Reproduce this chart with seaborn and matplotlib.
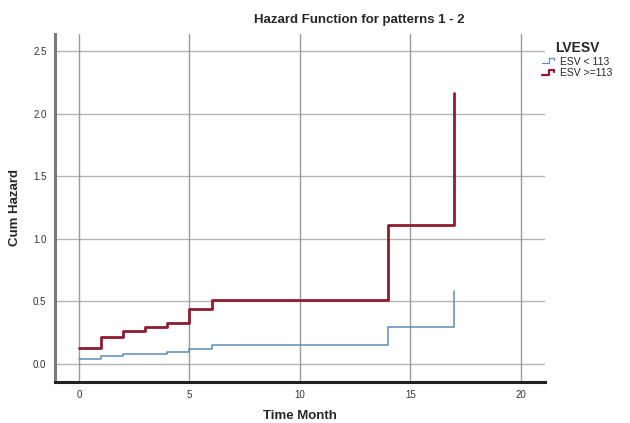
import pandas as pd
import numpy as np
import matplotlib
matplotlib.use('Agg')
import matplotlib.pyplot as plt
import seaborn as sns
from matplotlib.lines import Line2D
from matplotlib.legend_handler import HandlerBase

# --- Data ---
groups = ['ESV < 113', 'ESV >=113']
low_time = [0, 1, 2, 4, 5, 6, 14, 17]
low_hazard = [0.037, 0.061, 0.079, 0.095, 0.117, 0.148, 0.294, 0.582]
high_time = [0, 1, 2, 3, 4, 5, 6, 14, 17]
high_hazard = [0.125, 0.217, 0.267, 0.296, 0.328, 0.44, 0.513, 1.11, 2.17]
x_ticks = [0, 5, 10, 15, 20]
y_ticks = [0.0, 0.5, 1.0, 1.5, 2.0, 2.5]

colors = {'ESV < 113': '#5b8cb8', 'ESV >=113': '#8e1b30'}
widths = {'ESV < 113': 1.1, 'ESV >=113': 2.0}

hazard_df = pd.concat([
    pd.DataFrame({'Time Month': low_time, 'Cum Hazard': low_hazard, 'LVESV': groups[0]}),
    pd.DataFrame({'Time Month': high_time, 'Cum Hazard': high_hazard, 'LVESV': groups[1]}),
])

sns.set_style('white')
plt.rcParams['font.family'] = ['Liberation Sans', 'DejaVu Sans']

fig = plt.figure(figsize=(6.3, 4.23), dpi=100)
ax = fig.add_axes([0.087, 0.097, 0.778, 0.823])

# Grid drawn first so the steps sit on top
for g in y_ticks:
    ax.axhline(g, color='#b4b4b4', lw=1.0, zorder=0)
for g in x_ticks:
    ax.axvline(g, color='#9a9a9a', lw=1.0, zorder=0)

for grp in groups:
    sub = hazard_df[hazard_df['LVESV'] == grp]
    sns.lineplot(data=sub, x='Time Month', y='Cum Hazard', color=colors[grp],
                 lw=widths[grp], drawstyle='steps-post', estimator=None,
                 ax=ax, legend=False, zorder=3)

ax.set_xlim(-1.1, 21.1)
ax.set_ylim(-0.144, 2.64)
ax.set_xticks(x_ticks)
ax.set_yticks(y_ticks)
ax.set_yticklabels([f'{v:.1f}' for v in y_ticks])
ax.tick_params(labelsize=7, colors='#333333', length=0, pad=6)

for side in ['top', 'right']:
    ax.spines[side].set_visible(False)
ax.spines['bottom'].set_color('#222222')
ax.spines['bottom'].set_linewidth(2.2)
ax.spines['left'].set_color('#7a7a7a')
ax.spines['left'].set_linewidth(2.2)

ax.set_xlabel('Time Month', fontsize=9.5, fontweight='bold')
ax.set_ylabel('Cum Hazard', fontsize=9.5, fontweight='bold')
ax.xaxis.set_label_coords(0.5, -0.08)
ax.yaxis.set_label_coords(-0.068, 0.5)

fig.text(0.571, 0.952, 'Hazard Function for patterns 1 - 2', ha='center', va='center',
         fontsize=9.5, fontweight='bold')


# Step-shaped legend keys like SPSS
class StepHandler(HandlerBase):
    def create_artists(self, legend, orig_handle, xdescent, ydescent, width, height, fontsize, trans):
        xs = [0, width * 0.45, width * 0.45, width * 0.75, width * 0.75]
        ys = [height * 0.2, height * 0.2, height * 0.9, height * 0.9, height * 0.6]
        line = Line2D(np.array(xs) - xdescent, np.array(ys) - ydescent,
                      color=orig_handle.get_color(), lw=orig_handle.get_linewidth(),
                      transform=trans)
        return [line]


handles = [Line2D([], [], color=colors[g], lw=widths[g] * 0.8) for g in groups]
leg = fig.legend(handles, groups, title='LVESV', loc='upper left',
                 bbox_to_anchor=(0.845, 0.925), frameon=False, fontsize=7.5,
                 handler_map={Line2D: StepHandler()}, handlelength=1.6,
                 handletextpad=0.2, labelspacing=0.15)
leg.get_title().set_fontweight('bold')
leg.get_title().set_fontsize(10)

fig.savefig('out.png', dpi=100)
